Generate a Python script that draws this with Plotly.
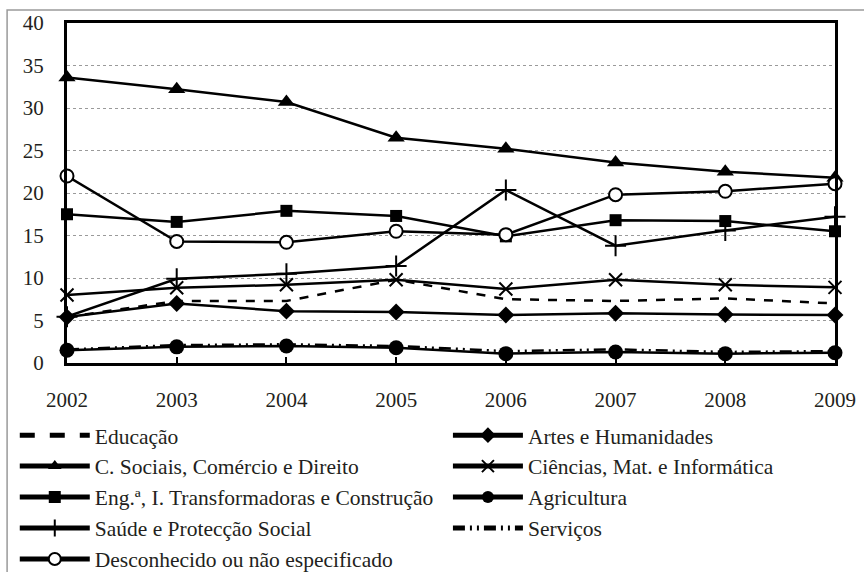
import plotly.graph_objects as go

years = [2002, 2003, 2004, 2005, 2006, 2007, 2008, 2009]

educacao = [5.4, 7.3, 7.3, 9.8, 7.5, 7.3, 7.6, 7.0]
artes = [5.4, 7.0, 6.1, 6.0, 5.65, 5.85, 5.7, 5.65]
sociais = [33.6, 32.2, 30.7, 26.5, 25.2, 23.6, 22.5, 21.8]
ciencias = [8.0, 8.85, 9.2, 9.8, 8.7, 9.8, 9.2, 8.9]
engenharia = [17.5, 16.6, 17.9, 17.3, 14.9, 16.8, 16.7, 15.5]
agricultura = [1.5, 1.9, 2.0, 1.8, 1.1, 1.3, 1.1, 1.2]
saude = [5.45, 9.9, 10.5, 11.4, 20.35, 13.8, 15.6, 17.2]
servicos = [1.6, 2.1, 2.2, 2.0, 1.4, 1.6, 1.3, 1.4]
desconhecido = [22.0, 14.3, 14.2, 15.5, 15.1, 19.8, 20.2, 21.1]

y_ticks = [0, 5, 10, 15, 20, 25, 30, 35, 40]

FONT = "Liberation Serif"
TXT = "#231F20"
LW = 2.5

fig = go.Figure()

def add(name, ys, legend, dash="solid", marker=None, mode="lines+markers"):
    kw = dict(x=years, y=ys, name=name, mode=mode, legend=legend,
              line=dict(color="black", width=LW, dash=dash), cliponaxis=False)
    if marker is not None:
        kw["marker"] = marker
    fig.add_trace(go.Scatter(**kw))

add("Educação", educacao, "legend", dash="dash", mode="lines")
add("C. Sociais, Comércio e Direito", sociais, "legend",
    marker=dict(symbol="triangle-up", size=15, color="black"))
add("Eng.ª, I. Transformadoras e Construção", engenharia, "legend",
    marker=dict(symbol="square", size=12, color="black"))
add("Saúde e Protecção Social", saude, "legend",
    marker=dict(symbol="cross-thin-open", size=15, color="black",
                line=dict(color="black", width=2)))
add("Desconhecido ou não especificado", desconhecido, "legend",
    marker=dict(symbol="circle", size=13, color="white",
                line=dict(color="black", width=2)))
add("Artes e Humanidades", artes, "legend2",
    marker=dict(symbol="diamond", size=13, color="black"))
add("Ciências, Mat. e Informática", ciencias, "legend2",
    marker=dict(symbol="x-thin-open", size=13, color="black",
                line=dict(color="black", width=2)))
add("Agricultura", agricultura, "legend2",
    marker=dict(symbol="circle", size=15, color="black"))
add("Serviços", servicos, "legend2", dash="12px,5px,2px,5px,2px,5px", mode="lines")

legend_common = dict(
    orientation="v", xanchor="left", yanchor="top",
    font=dict(family=FONT, size=21.5, color=TXT),
    bgcolor="rgba(0,0,0,0)", itemwidth=70, traceorder="normal",
    itemsizing="constant",
)

fig.update_layout(
    width=864, height=572,
    margin=dict(l=67, r=29, t=23, b=209, autoexpand=False),
    paper_bgcolor="white", plot_bgcolor="white",
    font=dict(family=FONT, size=21, color=TXT),
    showlegend=True,
    legend=dict(x=-0.068, y=-0.152, **legend_common),
    legend2=dict(x=0.496, y=-0.152, **legend_common),
    xaxis=dict(
        range=[2002, 2009], tickmode="array", tickvals=years,
        ticktext=[str(y) for y in years],
        showgrid=False, zeroline=False,
        showline=True, linecolor="black", linewidth=3, mirror=True,
        ticks="inside", ticklen=6, tickwidth=2, tickcolor="black",
        ticklabelstandoff=16,
        tickfont=dict(family=FONT, size=21, color=TXT),
    ),
    yaxis=dict(
        range=[0, 40], tickmode="array", tickvals=y_ticks,
        showgrid=True, gridcolor="#9a9a9a", gridwidth=1, griddash="dot",
        zeroline=False,
        showline=True, linecolor="black", linewidth=3, mirror=True,
        ticks="", ticklabelstandoff=16,
        tickfont=dict(family=FONT, size=21, color=TXT),
    ),
    shapes=[dict(type="rect", xref="paper", yref="paper",
                 x0=-0.078, x1=1.06, y0=-0.66, y1=1.038,
                 line=dict(color="#9a9a9a", width=1.5), fillcolor="rgba(0,0,0,0)",
                 layer="below")],
)

fig.write_html("out.html", config={"displayModeBar": False},
               post_script="document.body.style.margin='0';")
